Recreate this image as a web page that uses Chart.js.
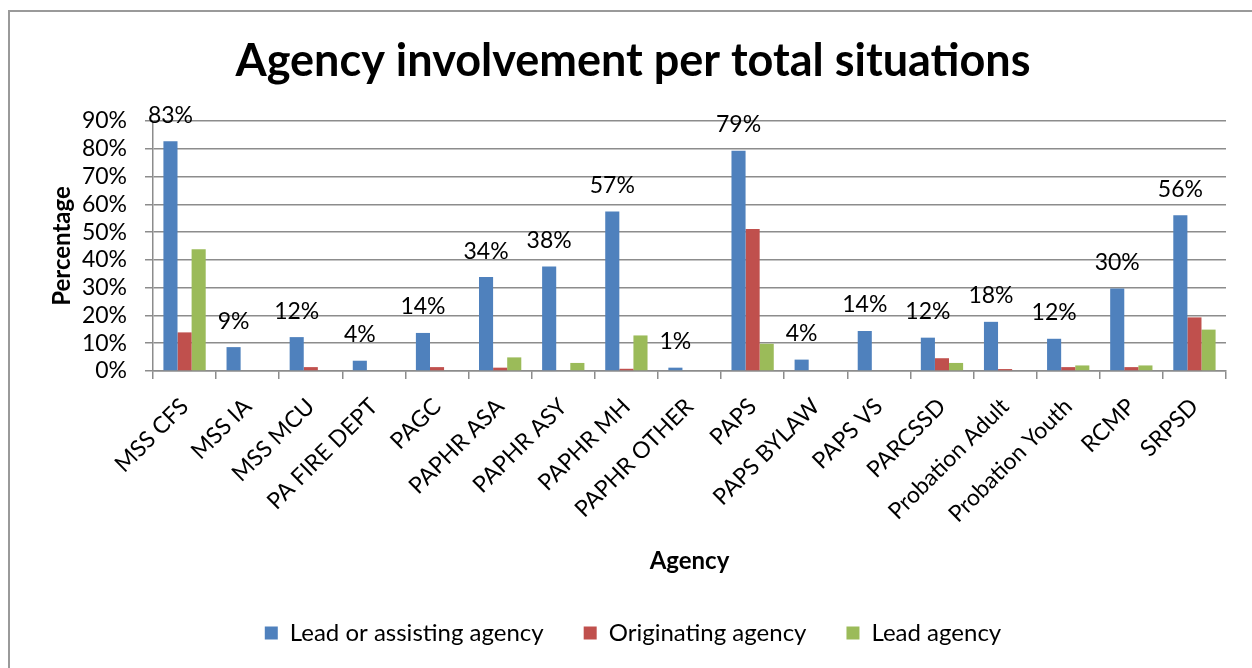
<!DOCTYPE html>
<html>
<head>
<meta charset="utf-8">
<script src="https://cdn.jsdelivr.net/npm/chart.js@4"></script>
<style>
  html, body { margin: 0; padding: 0; background: #fff; overflow: hidden; }
  #frame { position: absolute; left: 8px; top: 10px; width: 1400px; height: 800px; border: 2px solid #9a9a9a; box-sizing: border-box; }
  #myChart { position: absolute; left: 0; top: 0; }
</style>
</head>
<body>
<div id="frame"></div>
<canvas id="myChart" width="1252" height="668"></canvas>
<script>
const agencies = ['MSS CFS', 'MSS IA', 'MSS MCU', 'PA FIRE DEPT', 'PAGC', 'PAPHR ASA', 'PAPHR ASY', 'PAPHR MH',
    'PAPHR OTHER', 'PAPS', 'PAPS BYLAW', 'PAPS VS', 'PARCSSD', 'Probation Adult', 'Probation Youth', 'RCMP', 'SRPSD'];

const leadOrAssisting = [82.7, 8.6, 12.2, 3.7, 13.7, 33.8, 37.6, 57.4, 1.2, 79.3, 4.1, 14.4, 12.0, 17.7, 11.6, 29.7, 56.1];
const originating     = [13.9, 0, 1.4, 0, 1.4, 1.2, 0, 0.8, 0, 51.1, 0, 0, 4.6, 0.7, 1.4, 1.4, 19.3];
const leadAgency      = [43.8, 0, 0, 0, 0, 4.9, 2.9, 12.8, 0, 9.8, 0, 0, 2.9, 0, 2.0, 2.0, 14.9];

const yTicks = [0, 10, 20, 30, 40, 50, 60, 70, 80, 90];

const ctx = document.getElementById('myChart');
const gridGrey = '#8c8c8c';
const baseFont = 'Lato';

// labels above the blue bars, like Excel's "outside end" data labels
const barLabels = {
    id: 'barLabels',
    afterDatasetsDraw(chart) {
        const c = chart.ctx;
        const meta = chart.getDatasetMeta(0);
        c.save();
        c.font = '23px ' + baseFont;
        c.fillStyle = '#000';
        c.textAlign = 'center';
        c.textBaseline = 'middle';
        meta.data.forEach(function (bar, i) {
            c.fillText(Math.round(leadOrAssisting[i]) + '%', bar.x, bar.y - 26);
        });
        c.restore();
    }
};

let graphData = {
    type: 'bar',
    data: {
        labels: agencies,
        datasets: [
            { label: 'Lead or assisting agency', data: leadOrAssisting, backgroundColor: '#4F81BD' },
            { label: 'Originating agency', data: originating, backgroundColor: '#C0504D' },
            { label: 'Lead agency', data: leadAgency, backgroundColor: '#9BBB59' }
        ]
    },
    options: {
        responsive: false,
        animation: false,
        layout: { padding: { left: 40, right: 26, top: 10, bottom: 13 } },
        datasets: { bar: { categoryPercentage: 0.67, barPercentage: 1.0 } },
        plugins: {
            title: {
                display: true,
                text: 'Agency involvement per total situations',
                color: '#000',
                font: { family: baseFont, size: 45, weight: 'bold' },
                padding: { top: 24, bottom: 33 }
            },
            legend: {
                position: 'bottom',
                labels: {
                    color: '#000',
                    font: { family: baseFont, size: 24 },
                    boxWidth: 13, boxHeight: 13,
                    padding: 40
                }
            },
            tooltip: { enabled: false }
        },
        scales: {
            x: {
                grid: { drawOnChartArea: false, color: gridGrey, lineWidth: 1.5, tickLength: 8, offset: true },
                border: { color: gridGrey, width: 1.5 },
                ticks: { color: '#000', font: { family: baseFont, size: 23 }, minRotation: 45, maxRotation: 45, autoSkip: false, padding: 14 },
                title: { display: true, text: 'Agency', color: '#000', font: { family: baseFont, size: 24, weight: 'bold' }, padding: { top: 0, bottom: 5 } },
                afterFit(scale) { scale.height = 210; }
            },
            y: {
                min: 0, max: 90,
                afterBuildTicks(scale) { scale.ticks = yTicks.map(v => ({ value: v })); },
                grid: { color: gridGrey, lineWidth: 1.5, tickLength: 8 },
                border: { color: gridGrey, width: 1.5 },
                ticks: { color: '#000', font: { family: baseFont, size: 23 }, padding: 18, autoSkip: false, callback: v => v + '%' },
                title: { display: true, text: 'Percentage', color: '#000', font: { family: baseFont, size: 24, weight: 'bold' }, padding: { top: 8, bottom: 0 } },
                afterFit(scale) { scale.width = 113; }
            }
        }
    },
    plugins: [barLabels]
};

var myChart = new Chart(ctx, graphData);
</script>
</body>
</html>
